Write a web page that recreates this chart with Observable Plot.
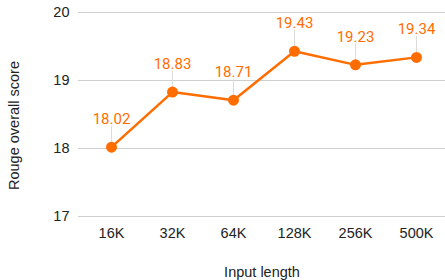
<!DOCTYPE html>
<html>
<head>
<meta charset="utf-8">
<script src="https://cdn.jsdelivr.net/npm/d3@7"></script>
<script src="https://cdn.jsdelivr.net/npm/@observablehq/plot@0.6"></script>
<style>
  html, body { margin: 0; padding: 0; background: #fff; }
  #chart { width: 445px; height: 280px; }
</style>
</head>
<body>
<div id="chart"></div>
<script>
const categories = ["16K", "32K", "64K", "128K", "256K", "500K"];
const scores = [18.02, 18.83, 18.71, 19.43, 19.23, 19.34];
const yTicks = [17, 18, 19, 20];

const data = categories.map((c, i) => ({ cat: c, v: scores[i] }));
const orange = "#FF6D01";

const chart = Plot.plot({
  width: 445,
  height: 280,
  marginLeft: 78,
  marginRight: 0,
  marginTop: 12,
  marginBottom: 64,
  style: { fontFamily: "Arial, 'Liberation Sans', sans-serif", background: "#fff" },
  x: { type: "point", domain: categories, range: [78, 448], padding: 0.5, label: null },
  y: { type: "linear", domain: [17, 20], label: null },
  marks: [
    Plot.ruleY(yTicks, { stroke: "#cfcfcf", strokeWidth: 1 }),
    Plot.axisY({ ticks: yTicks, tickFormat: d => String(d), tickSize: 0, tickPadding: 9, fontSize: 14.5, fill: "#222", label: null }),
    Plot.axisX({ tickSize: 0, tickPadding: 11, fontSize: 14.5, fill: "#222", label: null }),
    Plot.ruleX(data, { x: "cat", y1: "v", y2: "v", insetTop: -21, insetBottom: 0, stroke: "#dcdcdc", strokeWidth: 1 }),
    Plot.line(data, { x: "cat", y: "v", stroke: orange, strokeWidth: 2.5 }),
    Plot.dot(data, { x: "cat", y: "v", r: 5.5, fill: orange, stroke: "none" }),
    Plot.text(data, { x: "cat", y: "v", text: d => d.v.toFixed(2), dy: -28, fill: orange, fontSize: 15, fontFamily: "Roboto, sans-serif" }),
    Plot.text(["Input length"], { frameAnchor: "bottom", textAnchor: "middle", lineAnchor: "middle", dy: 56, fontSize: 14.5, fill: "#222" }),
    Plot.text(["Rouge overall score"], { frameAnchor: "left", textAnchor: "middle", lineAnchor: "middle", dx: -64, dy: 11, rotate: -90, fontSize: 14.5, fill: "#222" })
  ]
});
document.getElementById("chart").appendChild(chart);
</script>
</body>
</html>
